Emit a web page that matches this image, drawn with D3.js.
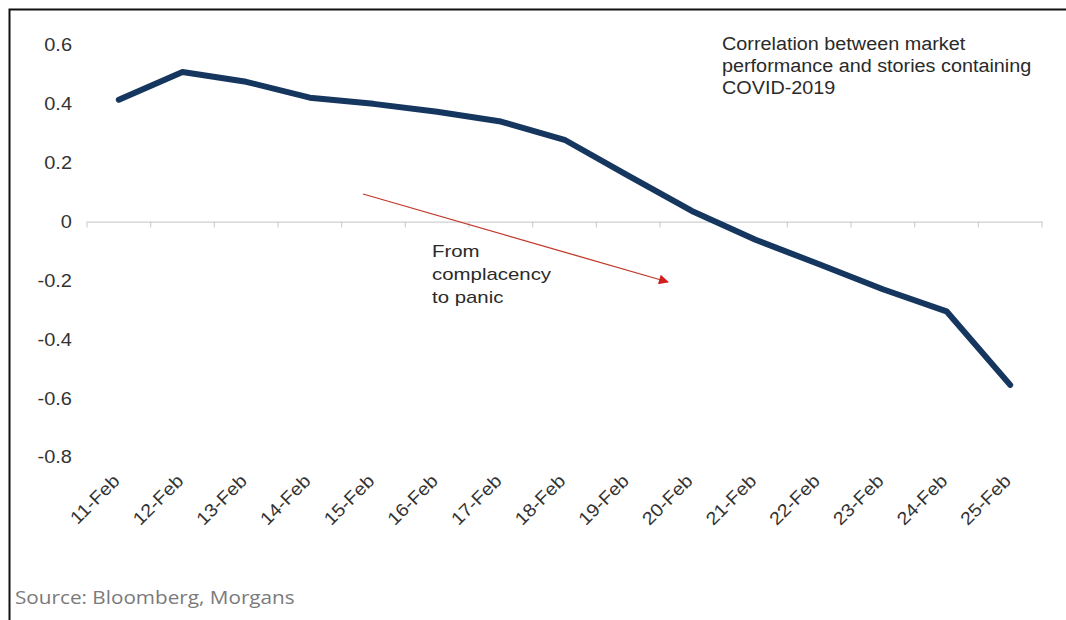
<!DOCTYPE html>
<html>
<head>
<meta charset="utf-8">
<script src="https://cdn.jsdelivr.net/npm/d3@7"></script>
<style>
  html, body { margin: 0; padding: 0; background: #fff; }
  svg { display: block; }
</style>
</head>
<body>
<svg id="chart" width="1066" height="620"></svg>
<script>
const categories = ["11-Feb","12-Feb","13-Feb","14-Feb","15-Feb","16-Feb","17-Feb","18-Feb","19-Feb","20-Feb","21-Feb","22-Feb","23-Feb","24-Feb","25-Feb"];
const correlation = [0.414, 0.508, 0.475, 0.421, 0.400, 0.373, 0.340, 0.278, 0.156, 0.036, -0.062, -0.145, -0.230, -0.305, -0.555];
const yTicks = [0.6, 0.4, 0.2, 0, -0.2, -0.4, -0.6, -0.8];
const yTickLabels = ["0.6", "0.4", "0.2", "0", "-0.2", "-0.4", "-0.6", "-0.8"];
const titleLines = ["Correlation between market", "performance and stories containing", "COVID-2019"];
const noteLines = ["From", "complacency", "to panic"];
const sourceText = "Source: Bloomberg, Morgans";

const svg = d3.select("#chart");

function stretch(sel, factor) {
  sel.each(function () {
    const w = this.getComputedTextLength();
    d3.select(this).attr("textLength", w * factor).attr("lengthAdjust", "spacingAndGlyphs");
  });
}

// frame
svg.append("path")
  .attr("d", "M9.5,620 L9.5,9.5 L1066,9.5")
  .attr("fill", "none").attr("stroke", "#111").attr("stroke-width", 2);

const x = d3.scaleBand().domain(categories).range([87, 1042]).padding(0);
const y = d3.scaleLinear().domain([-0.8, 0.6]).range([457, 45]);

// y tick labels (no axis line)
svg.append("g").selectAll("text").data(yTicks).join("text")
  .attr("x", 72).attr("y", d => y(d)).attr("dy", "0.35em")
  .attr("text-anchor", "end")
  .attr("font-family", "Liberation Sans, Arial, sans-serif")
  .attr("font-size", 18.5).attr("fill", "#333")
  .text((d, i) => yTickLabels[i])
  .call(stretch, 1.08);

// zero axis with ticks at category boundaries
const xAxis = d3.axisBottom(x).tickSize(0).tickFormat("");
const gx = svg.append("g").attr("transform", `translate(0,${y(0)})`).call(xAxis);
gx.select(".domain").attr("stroke", "#cfcfcf").attr("stroke-width", 1.2);
const bounds = categories.map(c => x(c)).concat([x.range()[1]]);
gx.selectAll("line.bt").data(bounds).join("line").attr("class", "bt")
  .attr("x1", d => d).attr("x2", d => d).attr("y1", 0).attr("y2", 6)
  .attr("stroke", "#cfcfcf").attr("stroke-width", 1.2);

// x labels rotated
svg.append("g").selectAll("text").data(categories).join("text")
  .attr("transform", d => `translate(${x(d) + x.bandwidth() / 2 + 2},${482}) rotate(-45)`)
  .attr("text-anchor", "end")
  .attr("font-family", "Liberation Sans, Arial, sans-serif")
  .attr("font-size", 18).attr("fill", "#333")
  .text(d => d)
  .call(stretch, 1.1);

// line
const line = d3.line()
  .x((d, i) => x(categories[i]) + x.bandwidth() / 2)
  .y(d => y(d));
svg.append("path").datum(correlation)
  .attr("d", line)
  .attr("fill", "none").attr("stroke", "#15365e")
  .attr("stroke-width", 6).attr("stroke-linejoin", "round").attr("stroke-linecap", "round");

// title annotation
svg.append("g").selectAll("text").data(titleLines).join("text")
  .attr("x", 722).attr("y", (d, i) => 50 + i * 22)
  .attr("font-family", "Liberation Sans, Arial, sans-serif")
  .attr("font-size", 18).attr("fill", "#2a2a2a")
  .text(d => d)
  .call(stretch, 1.1);

// arrow
const defs = svg.append("defs");
defs.append("marker").attr("id", "arr")
  .attr("viewBox", "0 0 10 10").attr("refX", 9).attr("refY", 5)
  .attr("markerWidth", 14).attr("markerHeight", 10).attr("markerUnits", "userSpaceOnUse")
  .attr("orient", "auto")
  .append("path").attr("d", "M0,0 L10,5 L0,10 Z").attr("fill", "#d01f1f");
svg.append("line")
  .attr("x1", 363).attr("y1", 194).attr("x2", 668).attr("y2", 282)
  .attr("stroke", "#c0392b").attr("stroke-width", 1.3)
  .attr("marker-end", "url(#arr)");

svg.append("g").selectAll("text").data(noteLines).join("text")
  .attr("x", 432).attr("y", (d, i) => 257 + i * 23)
  .attr("font-family", "Liberation Sans, Arial, sans-serif")
  .attr("font-size", 17).attr("fill", "#2a2a2a")
  .text(d => d)
  .call(stretch, 1.2);

// source
svg.append("text")
  .attr("x", 15).attr("y", 604)
  .attr("font-family", "Open Sans, sans-serif")
  .attr("font-size", 19).attr("fill", "#7a7a7a")
  .text(sourceText)
  .call(stretch, 1.09);
</script>
</body>
</html>
